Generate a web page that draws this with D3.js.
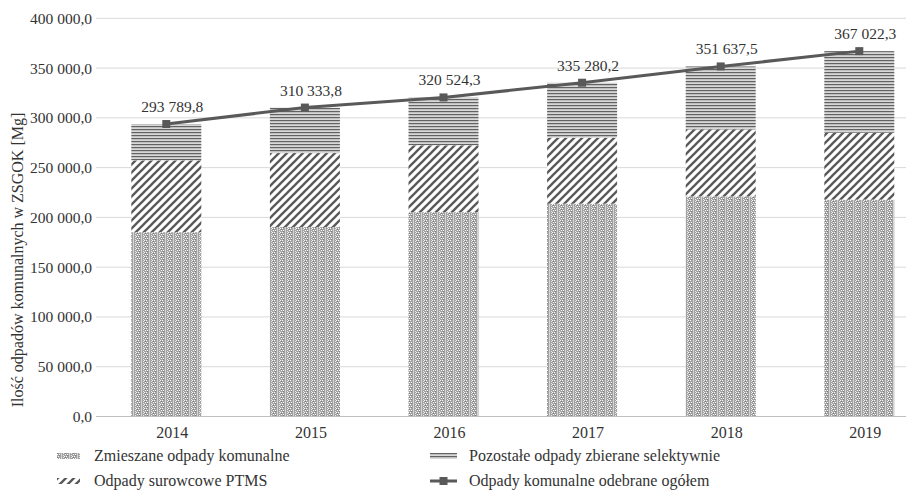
<!DOCTYPE html>
<html><head><meta charset="utf-8">
<script src="https://cdn.jsdelivr.net/npm/d3@7"></script>
<style>
html,body{margin:0;padding:0;background:#fff;overflow:hidden}
svg{display:block;font-family:"Liberation Serif","Times New Roman",serif}
</style></head>
<body>
<svg id="chart" width="906" height="490"></svg>
<script>
// ---- data ----
const years = ["2014","2015","2016","2017","2018","2019"];
const mixed = [185200, 190300, 205300, 213800, 221100, 217800];      // Zmieszane odpady komunalne
const ptms = [72100, 74300, 67100, 66300, 67300, 67300];             // Odpady surowcowe PTMS
const other = [36490, 45734, 48124, 55180, 63238, 81922];            // Pozostałe odpady zbierane selektywnie
const totals = [293789.8, 310333.8, 320524.3, 335280.2, 351637.5, 367022.3]; // Odpady komunalne odebrane ogółem
const yTicks = [0, 50000, 100000, 150000, 200000, 250000, 300000, 350000, 400000];
const seriesNames = ["Zmieszane odpady komunalne", "Odpady surowcowe PTMS", "Pozostałe odpady zbierane selektywnie", "Odpady komunalne odebrane ogółem"];
const yTitle = "Ilość odpadów komunalnych w ZSGOK [Mg]";

const svg = d3.select("#chart");
const textColor = "#333333";
const lineColor = "#595959";
const FONT = "Liberation Serif";

// ---- patterns ----
const defs = svg.append("defs");
const pM = defs.append("pattern").attr("id","pMixed").attr("patternUnits","userSpaceOnUse").attr("width",8).attr("height",4);
pM.append("rect").attr("width",8).attr("height",4).attr("fill","#a2a2a2");
[[0,0,"#ffffff"],[2,0,"#ffffff"],[1,2,"#ffffff"],[3,2,"#ffffff"],[1,1,"#7a7a7a"],[3,3,"#7a7a7a"],
 [5,0,"#d6d6d6"],[5,1,"#d6d6d6"],[5,2,"#d6d6d6"],[5,3,"#d6d6d6"],[7,1,"#e8e8e8"],[7,3,"#e8e8e8"]].forEach(([x,y,c])=>
  pM.append("rect").attr("x",x).attr("y",y).attr("width",1).attr("height",1).attr("fill",c));

const pD = defs.append("pattern").attr("id","pDiag").attr("patternUnits","userSpaceOnUse").attr("width",8).attr("height",8);
pD.append("rect").attr("width",8).attr("height",8).attr("fill","#fff");
pD.append("path").attr("d","M-2,2 L2,-2 M0,8 L8,0 M6,10 L10,6").attr("stroke",lineColor).attr("stroke-width",2.3);

const pH = defs.append("pattern").attr("id","pHoriz").attr("patternUnits","userSpaceOnUse").attr("width",4).attr("height",3);
pH.append("rect").attr("width",4).attr("height",3).attr("fill","#d8d8d8");
pH.append("rect").attr("width",4).attr("height",1.2).attr("fill","#626262");

const fills = ["url(#pMixed)","url(#pDiag)","url(#pHoriz)"];

// ---- scales ----
const x = d3.scaleBand().domain(years).range([97, 97 + 6*138.6]).paddingInner(0.495).paddingOuter(0.2475);
const y = d3.scaleLinear().domain([0, 400000]).range([416.5, 18.3]);
const fmt = v => d3.format(",.1f")(v).replace(/,/g, " ").replace(".", ",");

// gridlines
svg.append("g").selectAll("line").data(yTicks.filter(d=>d>0)).join("line")
  .attr("x1",96).attr("x2",906).attr("y1",d=>y(d)).attr("y2",d=>y(d))
  .attr("stroke","#d9d9d9").attr("stroke-width",1);

// y axis labels
const yAxis = svg.append("g").attr("transform","translate(92,0)")
  .call(d3.axisLeft(y).tickValues(yTicks).tickSize(0).tickPadding(0).tickFormat(fmt));
yAxis.select(".domain").remove();
yAxis.selectAll("text").attr("font-size",15.5).attr("fill",textColor).attr("font-family",FONT);

// stacked bars
const table = years.map((yr,i)=>({year:yr, mixed:mixed[i], ptms:ptms[i], other:other[i]}));
const stack = d3.stack().keys(["mixed","ptms","other"])(table);
svg.append("g").selectAll("g").data(stack).join("g")
  .attr("fill",(d,i)=>fills[i])
  .selectAll("rect").data(d=>d).join("rect")
  .attr("x",d=>x(d.data.year)).attr("width",x.bandwidth())
  .attr("y",d=>y(d[1])).attr("height",d=>y(d[0])-y(d[1]));

// x axis
svg.append("line").attr("x1",96).attr("x2",906).attr("y1",y(0)).attr("y2",y(0)).attr("stroke","#bfbfbf");
const xAxis = svg.append("g").attr("transform",`translate(0,${y(0)})`)
  .call(d3.axisBottom(x).tickSize(0).tickPadding(10));
xAxis.select(".domain").remove();
xAxis.selectAll("text").attr("font-size",16).attr("fill",textColor).attr("font-family",FONT).attr("dx",6);

// total line
const cx = d => x(d) + x.bandwidth()/2;
svg.append("path").datum(totals)
  .attr("d", d3.line().x((d,i)=>cx(years[i])).y(d=>y(d)))
  .attr("fill","none").attr("stroke",lineColor).attr("stroke-width",3);
svg.append("g").selectAll("rect").data(totals).join("rect")
  .attr("x",(d,i)=>cx(years[i])-4).attr("y",d=>y(d)-4).attr("width",8).attr("height",8).attr("fill",lineColor);
svg.append("g").selectAll("text").data(totals).join("text")
  .attr("x",(d,i)=>cx(years[i])+6).attr("y",d=>y(d)-12)
  .attr("text-anchor","middle").attr("font-size",15.5).attr("fill",textColor)
  .text(d=>fmt(d));

// y title
svg.append("text").attr("transform","translate(23,260) rotate(-90)")
  .attr("text-anchor","middle").attr("font-size",16).attr("fill",textColor).text(yTitle);

// legend
const leg = svg.append("g");
const items = [
  {x:57, y:456, w:23, type:0},
  {x:57, y:481, w:23, type:1},
  {x:430, y:456, w:27, type:2},
  {x:430, y:481, w:27, type:3}
];
items.forEach((it)=>{
  if (it.type < 3) {
    leg.append("rect").attr("x",it.x).attr("y",it.y-3).attr("width",it.w).attr("height",6).attr("fill",fills[it.type]);
  } else {
    leg.append("line").attr("x1",it.x).attr("x2",it.x+it.w).attr("y1",it.y).attr("y2",it.y).attr("stroke",lineColor).attr("stroke-width",3);
    leg.append("rect").attr("x",it.x+it.w/2-4).attr("y",it.y-4).attr("width",8).attr("height",8).attr("fill",lineColor);
  }
  leg.append("text").attr("x",it.x+it.w+(it.type<2?14:12)).attr("y",it.y+5)
    .attr("font-size",16).attr("fill",textColor).text(seriesNames[it.type]);
});
</script>
</body></html>
